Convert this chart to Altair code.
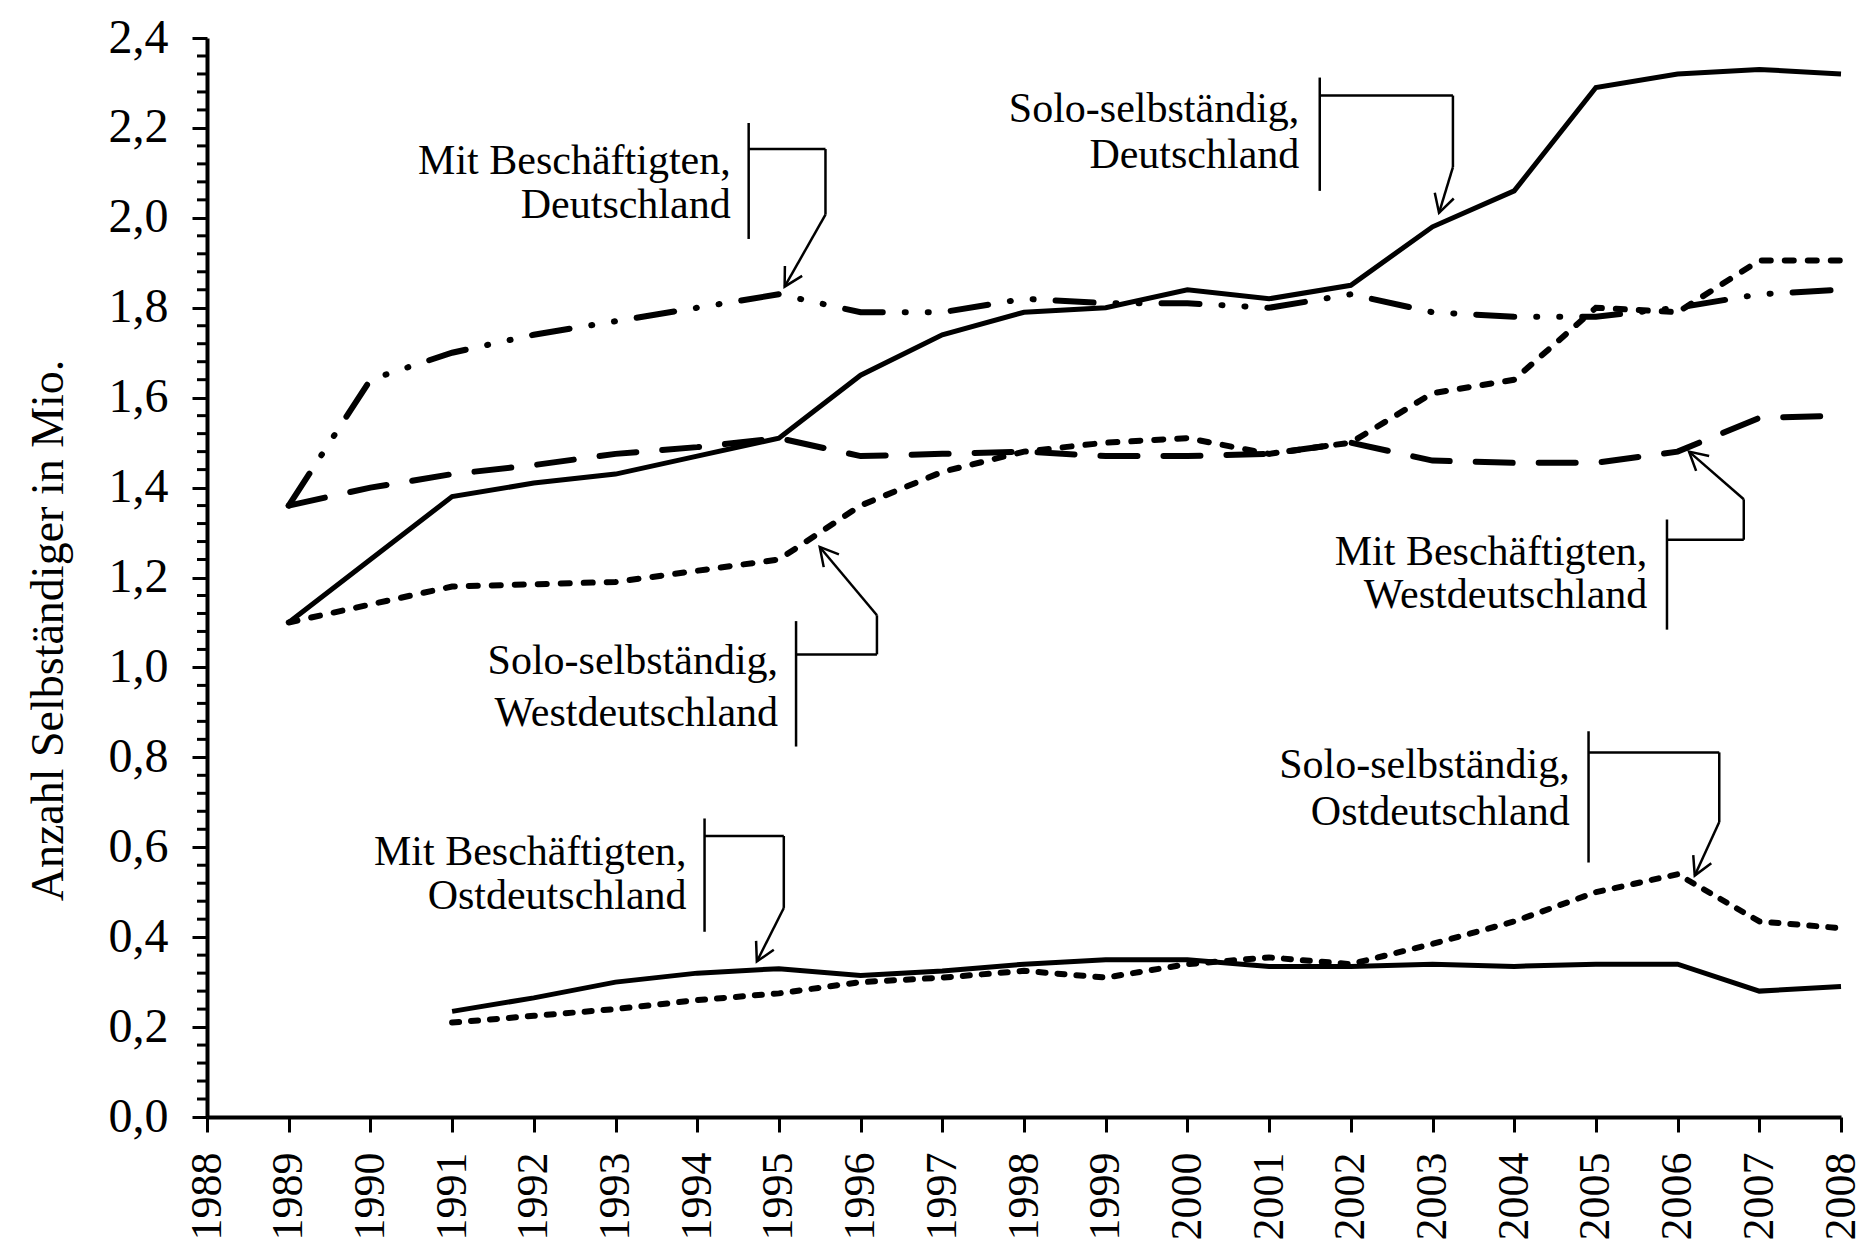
import math
import altair as alt
import pandas as pd

# ---------------- data ----------------
years_west = list(range(1989, 2009))
years_east = list(range(1991, 2009))

solo_de   = [1.10, 1.24, 1.38, 1.41, 1.43, 1.47, 1.51, 1.65, 1.74, 1.79, 1.80, 1.84, 1.82, 1.85, 1.98, 2.06, 2.29, 2.32, 2.33, 2.32]
mit_de    = [1.36, 1.64, 1.70, 1.74, 1.77, 1.80, 1.83, 1.79, 1.79, 1.82, 1.81, 1.81, 1.80, 1.83, 1.79, 1.78, 1.78, 1.80, 1.83, 1.84]
mit_west  = [1.36, 1.40, 1.43, 1.45, 1.475, 1.49, 1.51, 1.47, 1.475, 1.48, 1.47, 1.47, 1.475, 1.50, 1.46, 1.455, 1.455, 1.48, 1.555, 1.56]
solo_west = [1.10, 1.14, 1.18, 1.185, 1.19, 1.215, 1.24, 1.36, 1.435, 1.48, 1.50, 1.51, 1.475, 1.50, 1.61, 1.64, 1.80, 1.79, 1.905, 1.905]
mit_east  = [0.235, 0.265, 0.30, 0.32, 0.33, 0.315, 0.325, 0.34, 0.35, 0.35, 0.335, 0.335, 0.34, 0.335, 0.34, 0.34, 0.28, 0.29]
solo_east = [0.21, 0.225, 0.24, 0.26, 0.275, 0.30, 0.31, 0.325, 0.31, 0.34, 0.355, 0.34, 0.385, 0.435, 0.50, 0.54, 0.435, 0.42]

x_ticks = list(range(1988, 2009))
y_ticks = [round(0.2 * i, 1) for i in range(13)]
y_minor = [round(0.04 * i, 2) for i in range(61) if i % 5 != 0]

# annotation texts (two lines each), anchored right at (x, y) in data units
ann_lines = ["Mit Beschäftigten,", "Deutschland",
             "Solo-selbständig,", "Deutschland",
             "Solo-selbständig,", "Westdeutschland",
             "Mit Beschäftigten,", "Westdeutschland",
             "Solo-selbständig,", "Ostdeutschland",
             "Mit Beschäftigten,", "Ostdeutschland"]
ann_x = [1994.41, 1994.41, 2001.37, 2001.37, 1994.99, 1994.99,
         2005.63, 2005.63, 2004.68, 2004.68, 1993.87, 1993.87]
ann_y = [2.126, 2.028, 2.241, 2.140, 1.015, 0.898,
         1.257, 1.161, 0.784, 0.678, 0.590, 0.492]

# bracket / arrow geometry per annotation (data units)
br_x   = [1994.63, 2001.62, 1995.21, 2005.87, 2004.91, 1994.09]
br_top = [2.211, 2.312, 1.103, 1.329, 0.858, 0.664]
br_bot = [1.953, 2.060, 0.824, 1.084, 0.566, 0.412]
br_h   = [2.153, 2.272, 1.029, 1.284, 0.811, 0.625]
cn_x   = [1995.57, 2003.25, 1996.20, 2006.81, 2006.51, 1995.06]
cn_y   = [2.007, 2.113, 1.116, 1.374, 0.656, 0.465]
tip_x  = [1995.07, 2003.08, 1995.50, 2006.14, 2006.21, 1994.73]
tip_y  = [1.847, 2.011, 1.268, 1.480, 0.537, 0.346]

# ---------------- layout ----------------
W, H = 1634, 1079
FONT = "Liberation Serif"
xs = alt.Scale(domain=[1988, 2008], nice=False, zero=False)
ys = alt.Scale(domain=[0, 2.4], nice=False)

series = [
    ("solo_de", years_west, solo_de, dict(strokeWidth=5)),
    ("mit_de", years_west, mit_de, dict(strokeWidth=6, strokeDash=[38, 22, 1, 22, 1, 22], strokeCap="round")),
    ("mit_west", years_west, mit_west, dict(strokeWidth=6, strokeDash=[37, 26], strokeCap="round")),
    ("solo_west", years_west, solo_west, dict(strokeWidth=6, strokeDash=[9, 14], strokeCap="round")),
    ("mit_east", years_east, mit_east, dict(strokeWidth=5)),
    ("solo_east", years_east, solo_east, dict(strokeWidth=6, strokeDash=[7, 12], strokeCap="round")),
]

x_axis = alt.Axis(values=x_ticks, format="d", labelAngle=270, labelAlign="right",
                  labelBaseline="middle", tickSize=15, tickWidth=3, labelPadding=20,
                  labelFont=FONT, labelFontSize=44, domainWidth=4, title=None,
                  labelOverlap=False, labelFlush=False)
y_axis = alt.Axis(values=y_ticks, labelExpr="replace(format(datum.value, '.1f'), '.', ',')",
                  tickSize=15, tickWidth=3, labelPadding=24, labelFont=FONT, labelFontSize=48,
                  domainWidth=4, title="Anzahl Selbständiger in Mio.", titleFont=FONT,
                  titleFontSize=46, titleFontWeight="normal", titleX=-159, titleY=592,
                  titleAngle=270, titleBaseline="middle", labelOverlap=False, labelFlush=False)


def X(field):
    return alt.X(field, scale=xs, axis=x_axis)


def Y(field):
    return alt.Y(field, scale=ys, axis=y_axis)


layers = []
for name, yrs, vals, style in series:
    df = pd.DataFrame({"year": yrs, "value": vals})
    layers.append(
        alt.Chart(df).mark_line(color="black", **style).encode(x=X("year:Q"), y=Y("value:Q"))
    )

# minor ticks on y axis
minor_df = pd.DataFrame({"v": y_minor})
layers.append(
    alt.Chart(minor_df).mark_rule(color="black", strokeWidth=3).encode(
        x=alt.value(-10), x2=alt.value(0), y=Y("v:Q")
    )
)

# annotation texts
txt_df = pd.DataFrame({"t": ann_lines, "x": ann_x, "y": ann_y})
layers.append(
    alt.Chart(txt_df).mark_text(align="right", baseline="middle", font=FONT,
                                fontSize=42, color="black").encode(
        x=X("x:Q"), y=Y("y:Q"), text="t:N"
    )
)

# bracket segments and arrow shafts
seg = {"x1": [], "y1": [], "x2": [], "y2": []}
for k in range(len(br_x)):
    for (a, b, c, d) in [
        (br_x[k], br_top[k], br_x[k], br_bot[k]),
        (br_x[k], br_h[k], cn_x[k], br_h[k]),
        (cn_x[k], br_h[k], cn_x[k], cn_y[k]),
        (cn_x[k], cn_y[k], tip_x[k], tip_y[k]),
    ]:
        seg["x1"].append(a); seg["y1"].append(b); seg["x2"].append(c); seg["y2"].append(d)
seg_df = pd.DataFrame(seg)
layers.append(
    alt.Chart(seg_df).mark_rule(color="black", strokeWidth=2.5).encode(
        x=X("x1:Q"), y=Y("y1:Q"), x2="x2:Q", y2="y2:Q"
    )
)

# arrowheads
ppx = W / 20.0
ppy = H / 2.4
angles = []
for k in range(len(tip_x)):
    dx = (tip_x[k] - cn_x[k]) * ppx
    dy = -(tip_y[k] - cn_y[k]) * ppy
    angles.append(math.degrees(math.atan2(-dx, dy)) % 360)
head_df = pd.DataFrame({"x": tip_x, "y": tip_y, "a": angles})
layers.append(
    alt.Chart(head_df).mark_point(shape="M -0.55 -1 L 0 0 L 0.55 -1", filled=False,
                                  color="black", strokeWidth=2.5, size=1300, opacity=1).encode(
        x=X("x:Q"), y=Y("y:Q"), angle=alt.Angle("a:Q", scale=None)
    )
)

chart = alt.layer(*layers).properties(
    width=W, height=H,
    autosize=alt.AutoSizeParams(type="none"),
    padding={"left": 199, "top": 30, "right": 25, "bottom": 132},
    background="white",
).configure_view(stroke=None).configure_axis(
    grid=False, domainColor="black", tickColor="black", labelColor="black", titleColor="black"
)

chart.save("out.html", embed_options={"renderer": "svg", "actions": False})
